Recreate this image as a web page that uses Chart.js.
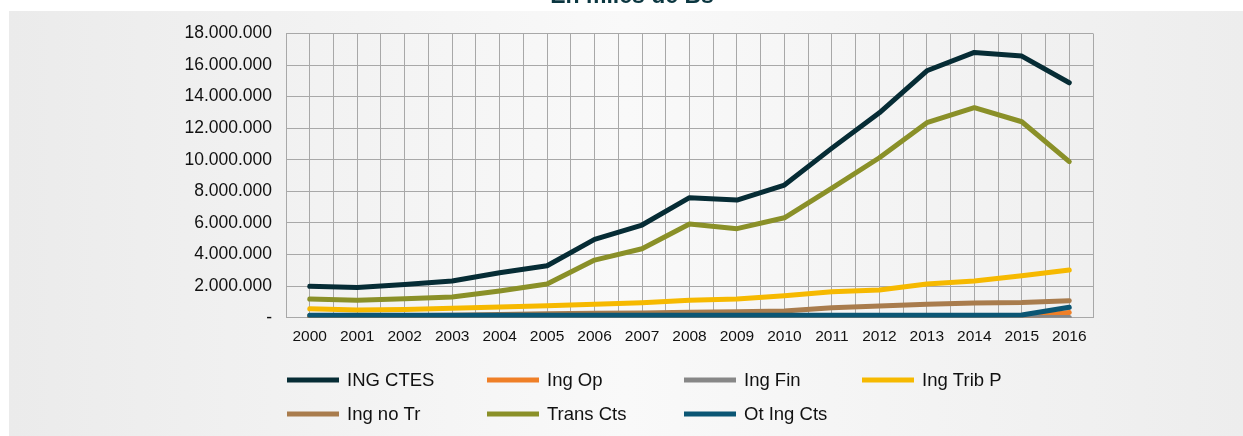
<!DOCTYPE html>
<html>
<head>
<meta charset="utf-8">
<script src="https://cdn.jsdelivr.net/npm/chart.js@4.4.0/dist/chart.umd.min.js"></script>
<style>
html, body { margin: 0; padding: 0; background: #fff; width: 1243px; height: 436px; overflow: hidden; }
#panel { position: absolute; left: 9px; top: 11px; width: 1234px; height: 425px;
  background: linear-gradient(to right, #ebebeb 0%, #f9f9f9 50%, #ededed 100%); }
#wrap { position: absolute; left: 0; top: 0; width: 1243px; height: 436px; }
</style>
</head>
<body>
<div id="panel"></div>
<div id="wrap"><canvas id="chart" width="1243" height="436"></canvas></div>
<script>
// data (miles de Bs)
var years = ['2000', '2001', '2002', '2003', '2004', '2005', '2006', '2007', '2008',
             '2009', '2010', '2011', '2012', '2013', '2014', '2015', '2016'];
var seriesNames = ['ING CTES', 'Ing Op', 'Ing Fin', 'Ing Trib P', 'Ing no Tr', 'Trans Cts', 'Ot Ing Cts'];

var ingCtes  = [1990000, 1920000, 2100000, 2320000, 2850000, 3290000, 4960000, 5870000, 7600000,
                7450000, 8400000, 10740000, 12980000, 15640000, 16800000, 16570000, 14880000];
var ingOp    = [20000, 20000, 20000, 20000, 20000, 20000, 20000, 20000, 20000,
                20000, 20000, 20000, 20000, 20000, 20000, 20000, 330000];
var ingFin   = [5000, 5000, 5000, 5000, 5000, 5000, 5000, 5000, 5000,
                5000, 5000, 5000, 5000, 5000, 5000, 5000, 5000];
var ingTribP = [570000, 490000, 520000, 600000, 680000, 750000, 850000, 950000, 1100000,
                1180000, 1390000, 1650000, 1750000, 2130000, 2320000, 2660000, 3020000];
var ingNoTr  = [120000, 120000, 130000, 150000, 200000, 250000, 280000, 300000, 350000,
                380000, 420000, 630000, 740000, 850000, 930000, 970000, 1080000];
var transCts = [1180000, 1100000, 1200000, 1310000, 1690000, 2130000, 3650000, 4370000, 5930000,
                5640000, 6330000, 8200000, 10130000, 12350000, 13300000, 12410000, 9880000];
var otIngCts = [160000, 160000, 160000, 160000, 160000, 160000, 150000, 150000, 150000,
                150000, 150000, 150000, 150000, 160000, 160000, 170000, 660000];

var seriesData = [ingCtes, ingOp, ingFin, ingTribP, ingNoTr, transCts, otIngCts];
var seriesColors = ['#062c35', '#ef7f27', '#878787', '#f6b900', '#a97c4d', '#8a9028', '#0b5674'];

var FONT = '"Liberation Sans", Arial, Helvetica, sans-serif';
Chart.defaults.font.family = FONT;

function fmt(v) {
    if (v === 0) return '-';
    return String(v).replace(/\B(?=(\d{3})+(?!\d))/g, '.');
}

// title + legend in 4 fixed columns, drawn on the canvas
var legendPlugin = {
    id: 'gridLegend',
    afterDraw: function (chart) {
        var ctx = chart.ctx;
        var colX = [287, 487, 684, 862];
        var rowY = [380, 414];
        ctx.save();
        ctx.font = '18.5px ' + FONT;
        ctx.textBaseline = 'middle';
        ctx.textAlign = 'left';
        chart.data.datasets.forEach(function (ds, i) {
            var x = colX[i % 4], y = rowY[Math.floor(i / 4)];
            ctx.fillStyle = ds.borderColor;
            ctx.fillRect(x, y - 2.5, 52, 5);
            ctx.fillStyle = '#111';
            ctx.fillText(ds.label, x + 60, y + 1);
        });
        ctx.font = 'bold 23px ' + FONT;
        ctx.textAlign = 'center';
        ctx.textBaseline = 'alphabetic';
        ctx.fillStyle = '#0b3640';
        ctx.fillText('En miles de Bs', 632, 2.5);
        ctx.restore();
    }
};

var datasets = [];
for (var i = 0; i < seriesNames.length; i++) {
    datasets.push({
        label: seriesNames[i],
        data: seriesData[i],
        borderColor: seriesColors[i],
        backgroundColor: seriesColors[i],
        borderWidth: 5,
        pointRadius: 0,
        borderCapStyle: 'round',
        borderJoinStyle: 'round',
        fill: false,
        tension: 0,
        order: seriesNames.length - i
    });
}

var gridColor = '#a8a8a8';
var ctx = document.getElementById('chart').getContext('2d');
var myChart = new Chart(ctx, {
    type: 'line',
    data: { labels: years, datasets: datasets },
    plugins: [legendPlugin],
    options: {
        responsive: false,
        animation: false,
        layout: { padding: { top: 33.5, right: 150, bottom: 0, left: 0 } },
        plugins: { legend: { display: false }, title: { display: false }, tooltip: { enabled: false } },
        scales: {
            x: {
                offset: true,
                grid: { offset: false, color: gridColor, lineWidth: 1, drawTicks: false },
                border: { display: false },
                ticks: { color: '#111', font: { size: 15.5 }, padding: 10, maxRotation: 0, autoSkip: false },
                afterFit: function (s) { s.height = 118.3; }
            },
            x2: {
                type: 'category',
                labels: years,
                position: 'bottom',
                offset: true,
                grid: { offset: true, color: gridColor, lineWidth: 1, drawTicks: false },
                border: { display: false },
                ticks: { display: false },
                afterFit: function (s) { s.height = 0; }
            },
            y: {
                min: 0,
                max: 18000000,
                grid: { color: gridColor, lineWidth: 1, drawTicks: false },
                border: { display: false },
                ticks: { stepSize: 2000000, color: '#111', font: { size: 17.5 }, padding: 14, callback: fmt },
                afterFit: function (s) { s.width = 286; }
            }
        }
    }
});
</script>
</body>
</html>
